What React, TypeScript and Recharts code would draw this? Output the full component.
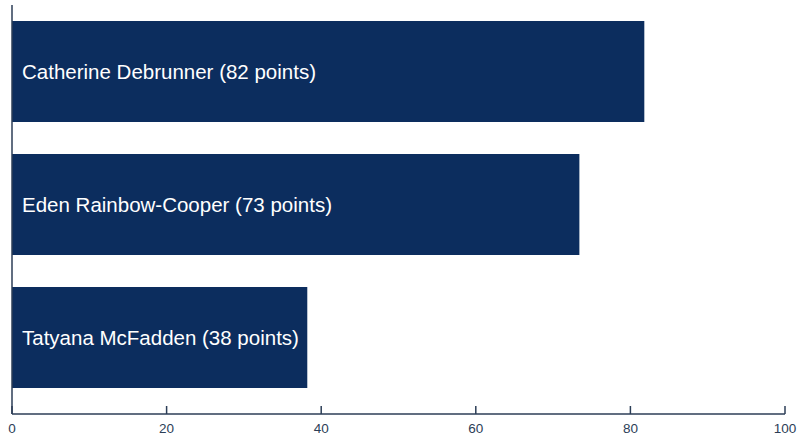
import { BarChart, Bar, XAxis, YAxis, LabelList } from 'recharts';

const athletes = ['Catherine Debrunner', 'Eden Rainbow-Cooper', 'Tatyana McFadden'];
const points = [81.8, 73.4, 38.2];
const xTicks = [0, 20, 40, 60, 80, 100];

const BAR_COLOR = '#0c2d5e';
const AXIS_COLOR = '#2c3e57';
const FONT = '"Liberation Sans", Arial, sans-serif';

const data = athletes.map((name, i) => ({ name, value: points[i] }));

const InwardTick = (props: any) => {
  const { x, y, payload } = props;
  return (
    <g>
      <line x1={x} y1={y} x2={x} y2={y - 8} stroke={AXIS_COLOR} strokeWidth={1.5} />
      <text x={x} y={y + 18.5} textAnchor="middle" fill={AXIS_COLOR} fontSize={13.5} fontFamily={FONT}>
        {payload.value}
      </text>
    </g>
  );
};

const BarLabel = (props: any) => {
  const { x, y, height, index } = props;
  const d = data[index];
  return (
    <text
      x={x + 10}
      y={y + height / 2}
      dominantBaseline="central"
      fill="#ffffff"
      fontSize={20.5}
      fontFamily={FONT}
    >
      {`${d.name} (${Math.round(d.value)} points)`}
    </text>
  );
};

export default function App() {
  return (
    <div style={{ position: 'absolute', top: 0, left: 0, background: '#fff' }}>
      <BarChart
        width={800}
        height={447}
        data={data}
        layout="vertical"
        margin={{ top: 5, right: 15, bottom: 0, left: 11 }}
        barCategoryGap="12%"
      >
        <XAxis
          type="number"
          domain={[0, 100]}
          ticks={xTicks}
          axisLine={{ stroke: AXIS_COLOR, strokeWidth: 1.5 }}
          tickLine={false}
          tickSize={0}
          tickMargin={0}
          height={33}
          tick={<InwardTick />}
        />
        <YAxis
          type="category"
          dataKey="name"
          width={1}
          tick={false}
          tickLine={false}
          axisLine={{ stroke: AXIS_COLOR, strokeWidth: 1.5 }}
          padding={{ top: 0, bottom: 10 }}
        />
        <Bar dataKey="value" fill={BAR_COLOR} isAnimationActive={false}>
          <LabelList dataKey="value" content={<BarLabel />} />
        </Bar>
      </BarChart>
    </div>
  );
}
